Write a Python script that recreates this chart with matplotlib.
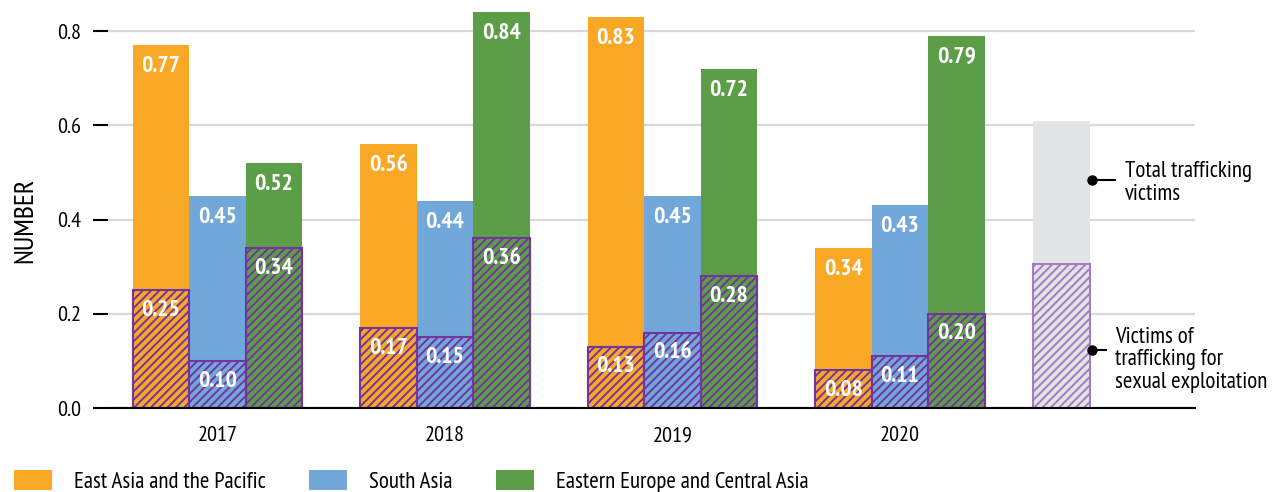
import matplotlib
matplotlib.use("Agg")
import matplotlib.pyplot as plt
from matplotlib.patches import Patch
import numpy as np

plt.rcParams['font.family'] = ['PT Sans Narrow', 'Roboto Condensed', 'DejaVu Sans']
plt.rcParams['hatch.linewidth'] = 1.4

# data
years = ['2017', '2018', '2019', '2020']
regions = ['East Asia and the Pacific', 'South Asia', 'Eastern Europe and Central Asia']
total = {
    'East Asia and the Pacific': [0.77, 0.56, 0.83, 0.34],
    'South Asia': [0.45, 0.44, 0.45, 0.43],
    'Eastern Europe and Central Asia': [0.52, 0.84, 0.72, 0.79],
}
sexual = {
    'East Asia and the Pacific': [0.25, 0.17, 0.13, 0.08],
    'South Asia': [0.10, 0.15, 0.16, 0.11],
    'Eastern Europe and Central Asia': [0.34, 0.36, 0.28, 0.20],
}
key_total = 0.61
key_sexual = 0.305
yticks = [0.0, 0.2, 0.4, 0.6, 0.8]

colors = ['#F9A826', '#72A8D9', '#5C9E47']
purple = '#7434A0'
light_purple = '#A27CC4'
grey = '#E3E4E6'

fig = plt.figure(figsize=(12.73, 4.92), dpi=100)
ax = fig.add_axes([0.0848, 0.1707, 0.8539, 0.8189])

x = np.arange(len(years))
w = 0.248
for i, r in enumerate(regions):
    xs = x + (i - 1) * w
    ax.bar(xs, total[r], w, color=colors[i], zorder=2)
    ax.bar(xs, sexual[r], w, color=colors[i], edgecolor=purple, linewidth=1.5,
           hatch='////', zorder=3)
    for xi, t, s in zip(xs, total[r], sexual[r]):
        ax.annotate('%.2f' % t, (xi, t), xytext=(0, -8), textcoords='offset points',
                    ha='center', va='top', color='white', fontsize=17,
                    fontweight='bold', zorder=5)
        ax.annotate('%.2f' % s, (xi, s), xytext=(0, -7), textcoords='offset points',
                    ha='center', va='top', color='white', fontsize=17,
                    fontweight='bold', zorder=5)

# key bar
kx = 3.71
ax.bar(kx, key_total, w, color=grey, zorder=2)
ax.bar(kx, key_sexual, w, color=grey, edgecolor=light_purple, linewidth=1.5,
       hatch='////', zorder=3)
ax.plot([kx + w / 2 + 0.01, kx + w / 2 + 0.11], [0.484, 0.484], color='black', lw=1.5, zorder=4)
ax.plot(kx + w / 2 + 0.01, 0.484, 'o', color='black', ms=6.5, zorder=4)
ax.plot([kx + w / 2 + 0.01, kx + w / 2 + 0.07], [0.123, 0.123], color='black', lw=1.5, zorder=4)
ax.plot(kx + w / 2 + 0.01, 0.123, 'o', color='black', ms=6.5, zorder=4)
ax.text(kx + w / 2 + 0.155, 0.478, 'Total trafficking\nvictims', ha='left', va='center',
        fontsize=16.5, linespacing=1.1)
ax.text(kx + w / 2 + 0.11, 0.102, 'Victims of\ntrafficking for\nsexual exploitation',
        ha='left', va='center', fontsize=16.5, linespacing=1.1)

ax.set_xlim(-0.481, 4.297)
ax.set_ylim(0, 0.855)
ax.set_xticks(x)
ax.set_xticklabels(years, fontsize=16)
ax.tick_params(axis='x', length=0, pad=13)
ax.set_yticks(yticks)
ax.set_yticklabels(['%.1f' % v for v in yticks], fontsize=16)
ax.tick_params(axis='y', length=11, width=1.5, pad=8, direction='out')
ax.yaxis.grid(True, color='#D9D9D9', lw=1.6, zorder=0)
ax.set_axisbelow(True)
for s in ['left', 'right', 'top']:
    ax.spines[s].set_visible(False)
ax.spines['bottom'].set_color('black')
ax.spines['bottom'].set_linewidth(1.5)
ax.spines['bottom'].set_zorder(6)

fig.text(25 / 1273, 1 - 220 / 492, 'NUMBER', rotation=90, ha='center', va='center',
         fontsize=20)

handles = [Patch(facecolor=c) for c in colors]
fig.legend(handles, regions, loc='upper left', bbox_to_anchor=(0.011, 0.045),
           ncol=3, frameon=False, fontsize=16.5, handlelength=1.66, handleheight=1.0,
           handletextpad=0.95, columnspacing=1.9, borderpad=0, borderaxespad=0)

fig.savefig('out.png', dpi=100)
